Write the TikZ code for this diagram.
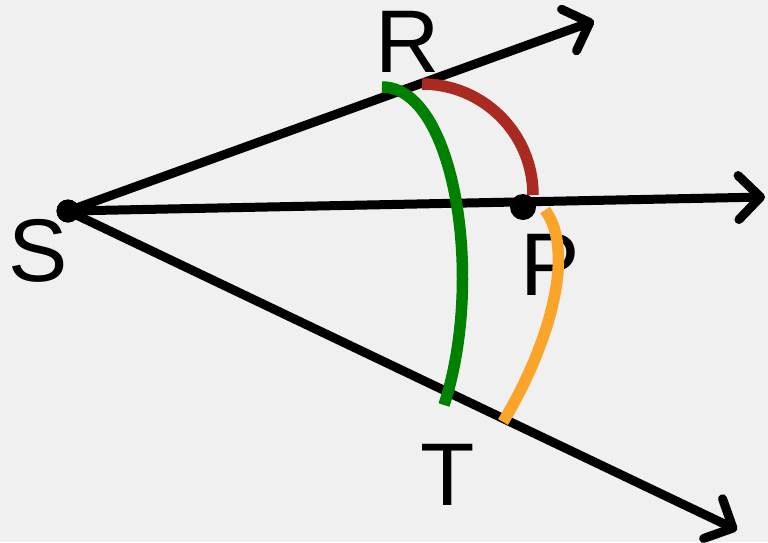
\documentclass[tikz,border=0pt]{standalone}
\usepackage{fontspec}
\setmainfont{Liberation Sans}
\usetikzlibrary{arrows.meta}
\definecolor{bg}{HTML}{F0F0F0}
\definecolor{arcred}{HTML}{A82A20}
\definecolor{arcgreen}{HTML}{008000}
\definecolor{arcorange}{HTML}{FBA42A}
\begin{document}
\begin{tikzpicture}[x=1pt,y=-1pt,
  ray/.style={line width=9pt, black, -{Straight Barb[length=22pt,width=44pt,round]}},
  arcline/.style={line width=11.5pt, line cap=butt},
  dot/.style={circle, fill=black, inner sep=0pt, minimum size=#1},
  lab/.style={font=\fontsize{89}{89}\selectfont, inner sep=0pt}]
\fill[bg] (0,0) rectangle (768,542);
\useasboundingbox (0,0) rectangle (768,542);
\coordinate (Eu) at (594,21);
\coordinate (Em) at (765,197);
\coordinate (El) at (737,530);
\node[dot=23pt] (S) at (68,211) {};
\draw[ray] (S.center) -- (Eu);
\draw[ray] (S.center) -- (Em);
\draw[ray] (S.center) -- (El);
\node[dot=23pt] (S2) at (68,211) {};
\node[dot=26pt] (P) at (523,207) {};
\node[lab] (Sl) at (38,251) {S};
\node[lab] (Rl) at (408,42) {R};
\node[lab] (Tl) at (448,475) {T};
\node[lab] (Pl) at (550,265) {P};
\coordinate (Rs) at (422,84);
\coordinate (Gs) at (382,87);
\coordinate (Ge) at (444,405);
\coordinate (Os) at (545,210);
\coordinate (Oe) at (503,422);
\draw[arcline, arcred] (Rs) arc[start angle=-90, end angle=0, radius=111];
\draw[arcline, arcgreen] (Gs) .. controls (455,87) and (485,280) .. (Ge);
\draw[arcline, arcorange] (Os) .. controls (575,250) and (552,340) .. (Oe);
\end{tikzpicture}
\end{document}
